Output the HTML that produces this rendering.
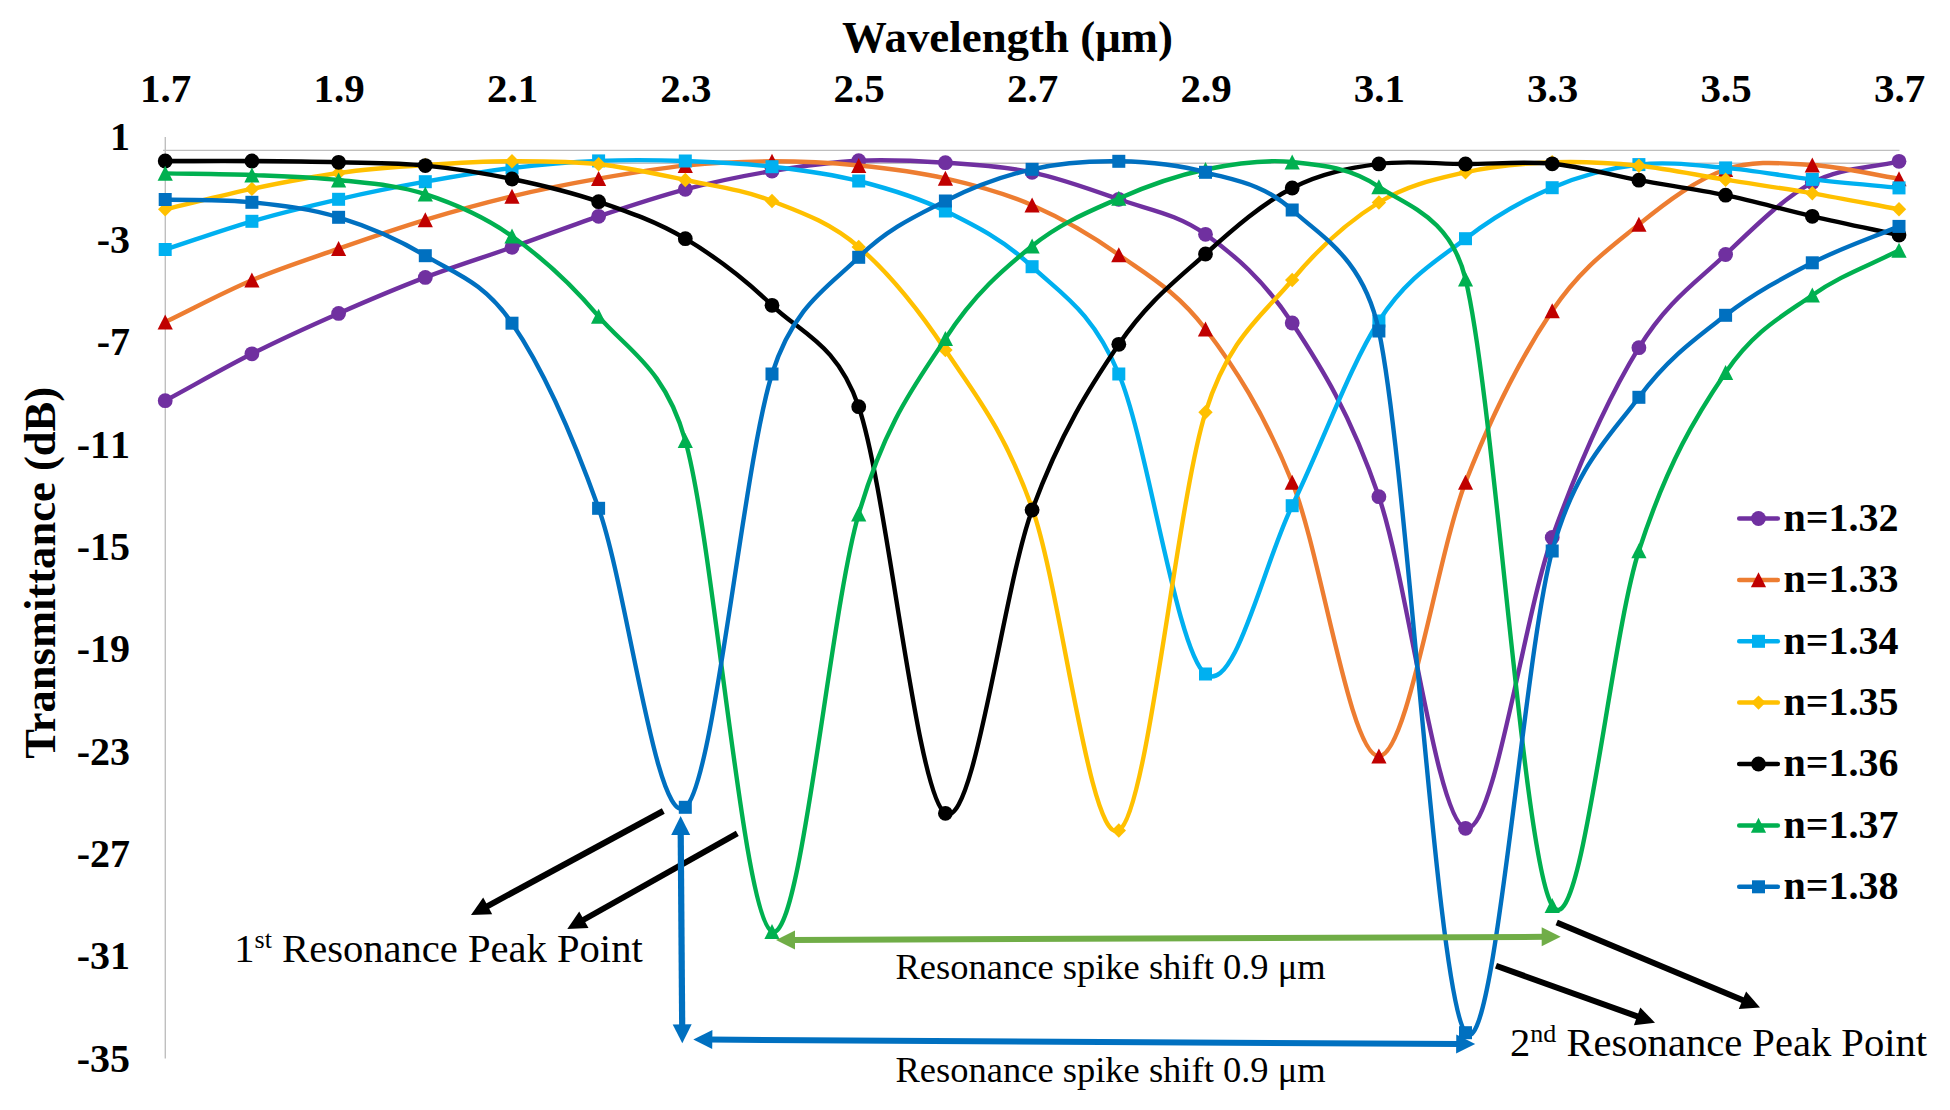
<!DOCTYPE html>
<html><head><meta charset="utf-8"><title>Transmittance vs Wavelength</title>
<style>
html,body{margin:0;padding:0;background:#fff;}
body{width:1950px;height:1110px;overflow:hidden;}
svg{display:block;}
text{font-family:"Liberation Serif","Times New Roman",serif;fill:#000;}
.b{font-weight:bold;}
.nk{font-kerning:none;}
</style></head><body>
<svg width="1950" height="1110" viewBox="0 0 1950 1110">
<rect width="1950" height="1110" fill="#fff"/>

<path d="M165.3 137 V1058.5" stroke="#bfbfbf" stroke-width="1.4" fill="none"/>
<path d="M163 150.4 H1899.5" stroke="#bfbfbf" stroke-width="1.4" fill="none"/>
<path d="M165.3 163.2 H1899" stroke="#c3c3c3" stroke-width="1.5" fill="none"/>
<text class="b" x="1007.5" y="52" font-size="44.9" text-anchor="middle">Wavelength (μm)</text>
<text class="b" transform="translate(54.8,572.8) rotate(-90)" font-size="44.6" text-anchor="middle">Transmittance (dB)</text>
<text class="b" x="165.7" y="102" font-size="41" text-anchor="middle">1.7</text>
<text class="b" x="339.1" y="102" font-size="41" text-anchor="middle">1.9</text>
<text class="b" x="512.5" y="102" font-size="41" text-anchor="middle">2.1</text>
<text class="b" x="685.8" y="102" font-size="41" text-anchor="middle">2.3</text>
<text class="b" x="859.2" y="102" font-size="41" text-anchor="middle">2.5</text>
<text class="b" x="1032.6" y="102" font-size="41" text-anchor="middle">2.7</text>
<text class="b" x="1206.0" y="102" font-size="41" text-anchor="middle">2.9</text>
<text class="b" x="1379.4" y="102" font-size="41" text-anchor="middle">3.1</text>
<text class="b" x="1552.7" y="102" font-size="41" text-anchor="middle">3.3</text>
<text class="b" x="1726.1" y="102" font-size="41" text-anchor="middle">3.5</text>
<text class="b" x="1899.5" y="102" font-size="41" text-anchor="middle">3.7</text>
<text class="b nk" x="130" y="150.4" font-size="40" text-anchor="end">1</text>
<text class="b nk" x="130" y="252.8" font-size="40" text-anchor="end">-3</text>
<text class="b nk" x="130" y="355.1" font-size="40" text-anchor="end">-7</text>
<text class="b nk" x="130" y="457.5" font-size="40" text-anchor="end">-11</text>
<text class="b nk" x="130" y="559.9" font-size="40" text-anchor="end">-15</text>
<text class="b nk" x="130" y="662.2" font-size="40" text-anchor="end">-19</text>
<text class="b nk" x="130" y="764.6" font-size="40" text-anchor="end">-23</text>
<text class="b nk" x="130" y="867.0" font-size="40" text-anchor="end">-27</text>
<text class="b nk" x="130" y="969.3" font-size="40" text-anchor="end">-31</text>
<text class="b nk" x="130" y="1071.7" font-size="40" text-anchor="end">-35</text>
<g>
<path d="M165.2 400.7 C194.1 385.1 223.0 368.4 251.9 353.8 C280.8 339.2 309.7 326.1 338.6 313.4 C367.5 300.7 396.4 288.4 425.3 277.4 C454.2 266.4 483.1 257.5 512.0 247.3 C540.9 237.1 569.8 226.0 598.6 216.3 C627.5 206.6 656.4 196.9 685.3 189.3 C714.2 181.8 743.1 175.8 772.0 171.0 C800.9 166.2 829.8 162.1 858.7 160.7 C887.6 159.3 916.5 160.8 945.4 162.7 C974.3 164.6 1003.2 166.2 1032.1 172.3 C1061.0 178.4 1089.9 189.0 1118.8 199.3 C1147.7 209.6 1176.6 213.7 1205.5 234.3 C1234.4 254.9 1263.3 279.3 1292.2 323.0 C1321.1 366.7 1350.0 412.5 1378.9 496.7 C1407.8 580.9 1436.7 821.5 1465.5 828.3 C1494.4 835.1 1523.3 617.5 1552.2 537.4 C1581.1 457.3 1610.0 394.8 1638.9 347.7 C1667.8 300.6 1696.7 282.0 1725.6 254.5 C1754.5 227.0 1783.4 198.1 1812.3 182.6 C1841.2 167.1 1870.1 168.4 1899.0 161.3" fill="none" stroke="#7030a0" stroke-width="4.4" stroke-linecap="round" stroke-linejoin="round"/>
<circle cx="165.2" cy="400.7" r="7.4" fill="#7030a0"/>
<circle cx="251.9" cy="353.8" r="7.4" fill="#7030a0"/>
<circle cx="338.6" cy="313.4" r="7.4" fill="#7030a0"/>
<circle cx="425.3" cy="277.4" r="7.4" fill="#7030a0"/>
<circle cx="512.0" cy="247.3" r="7.4" fill="#7030a0"/>
<circle cx="598.6" cy="216.3" r="7.4" fill="#7030a0"/>
<circle cx="685.3" cy="189.3" r="7.4" fill="#7030a0"/>
<circle cx="772.0" cy="171.0" r="7.4" fill="#7030a0"/>
<circle cx="858.7" cy="160.7" r="7.4" fill="#7030a0"/>
<circle cx="945.4" cy="162.7" r="7.4" fill="#7030a0"/>
<circle cx="1032.1" cy="172.3" r="7.4" fill="#7030a0"/>
<circle cx="1118.8" cy="199.3" r="7.4" fill="#7030a0"/>
<circle cx="1205.5" cy="234.3" r="7.4" fill="#7030a0"/>
<circle cx="1292.2" cy="323.0" r="7.4" fill="#7030a0"/>
<circle cx="1378.9" cy="496.7" r="7.4" fill="#7030a0"/>
<circle cx="1465.5" cy="828.3" r="7.4" fill="#7030a0"/>
<circle cx="1552.2" cy="537.4" r="7.4" fill="#7030a0"/>
<circle cx="1638.9" cy="347.7" r="7.4" fill="#7030a0"/>
<circle cx="1725.6" cy="254.5" r="7.4" fill="#7030a0"/>
<circle cx="1812.3" cy="182.6" r="7.4" fill="#7030a0"/>
<circle cx="1899.0" cy="161.3" r="7.4" fill="#7030a0"/>
</g>
<g>
<path d="M165.2 322.0 C194.1 308.1 223.0 292.4 251.9 280.2 C280.8 268.0 309.7 258.8 338.6 248.7 C367.5 238.6 396.4 228.6 425.3 219.9 C454.2 211.2 483.1 203.2 512.0 196.3 C540.9 189.4 569.8 183.7 598.6 178.6 C627.5 173.5 656.4 168.5 685.3 165.6 C714.2 162.7 743.1 161.3 772.0 161.3 C800.9 161.3 829.8 162.7 858.7 165.5 C887.6 168.3 916.5 171.8 945.4 178.4 C974.3 185.0 1003.2 192.5 1032.1 205.2 C1061.0 217.9 1089.9 234.2 1118.8 254.8 C1147.7 275.4 1176.6 291.1 1205.5 329.0 C1234.4 366.9 1263.3 411.1 1292.2 482.3 C1321.1 553.5 1350.0 756.2 1378.9 756.2 C1407.8 756.2 1436.7 556.5 1465.5 482.3 C1494.4 408.1 1523.3 353.8 1552.2 310.8 C1581.1 267.8 1610.0 248.0 1638.9 224.4 C1667.8 200.8 1696.7 179.4 1725.6 169.5 C1754.5 159.6 1783.4 163.4 1812.3 165.0 C1841.2 166.6 1870.1 174.2 1899.0 178.8" fill="none" stroke="#ed7d31" stroke-width="4.4" stroke-linecap="round" stroke-linejoin="round"/>
<path d="M165.2 314.4 L172.8 329.4 L157.6 329.4 Z" fill="#c00000"/>
<path d="M251.9 272.6 L259.5 287.6 L244.3 287.6 Z" fill="#c00000"/>
<path d="M338.6 241.1 L346.2 256.1 L331.0 256.1 Z" fill="#c00000"/>
<path d="M425.3 212.3 L432.9 227.3 L417.7 227.3 Z" fill="#c00000"/>
<path d="M512.0 188.7 L519.6 203.7 L504.4 203.7 Z" fill="#c00000"/>
<path d="M598.6 171.0 L606.2 186.0 L591.0 186.0 Z" fill="#c00000"/>
<path d="M685.3 158.0 L692.9 173.0 L677.7 173.0 Z" fill="#c00000"/>
<path d="M772.0 153.7 L779.6 168.7 L764.4 168.7 Z" fill="#c00000"/>
<path d="M858.7 157.9 L866.3 172.9 L851.1 172.9 Z" fill="#c00000"/>
<path d="M945.4 170.8 L953.0 185.8 L937.8 185.8 Z" fill="#c00000"/>
<path d="M1032.1 197.6 L1039.7 212.6 L1024.5 212.6 Z" fill="#c00000"/>
<path d="M1118.8 247.2 L1126.4 262.2 L1111.2 262.2 Z" fill="#c00000"/>
<path d="M1205.5 321.4 L1213.1 336.4 L1197.9 336.4 Z" fill="#c00000"/>
<path d="M1292.2 474.7 L1299.8 489.7 L1284.6 489.7 Z" fill="#c00000"/>
<path d="M1378.9 748.6 L1386.5 763.6 L1371.3 763.6 Z" fill="#c00000"/>
<path d="M1465.5 474.7 L1473.1 489.7 L1458.0 489.7 Z" fill="#c00000"/>
<path d="M1552.2 303.2 L1559.8 318.2 L1544.6 318.2 Z" fill="#c00000"/>
<path d="M1638.9 216.8 L1646.5 231.8 L1631.3 231.8 Z" fill="#c00000"/>
<path d="M1725.6 161.9 L1733.2 176.9 L1718.0 176.9 Z" fill="#c00000"/>
<path d="M1812.3 157.4 L1819.9 172.4 L1804.7 172.4 Z" fill="#c00000"/>
<path d="M1899.0 171.2 L1906.6 186.2 L1891.4 186.2 Z" fill="#c00000"/>
</g>
<g>
<path d="M165.2 249.5 C194.1 240.1 223.0 229.7 251.9 221.3 C280.8 212.9 309.7 205.9 338.6 199.3 C367.5 192.7 396.4 186.9 425.3 181.7 C454.2 176.5 483.1 171.5 512.0 168.0 C540.9 164.5 569.8 162.1 598.6 160.9 C627.5 159.7 656.4 160.0 685.3 161.0 C714.2 162.0 743.1 163.4 772.0 166.7 C800.9 170.0 829.8 173.6 858.7 181.0 C887.6 188.4 916.5 196.7 945.4 211.0 C974.3 225.3 1003.2 239.5 1032.1 266.7 C1061.0 293.9 1091.8 310.5 1118.8 374.0 C1147.7 441.9 1176.6 652.0 1205.5 674.0 C1234.4 696.0 1263.3 564.5 1292.2 505.7 C1321.1 446.9 1350.0 365.5 1378.9 321.0 C1407.8 276.5 1436.7 260.9 1465.5 238.7 C1494.4 216.5 1523.3 200.0 1552.2 187.7 C1581.1 175.3 1610.0 167.9 1638.9 164.6 C1667.8 161.3 1696.7 165.4 1725.6 167.9 C1754.5 170.4 1783.4 176.1 1812.3 179.4 C1841.2 182.7 1870.1 185.1 1899.0 187.9" fill="none" stroke="#00b0f0" stroke-width="4.4" stroke-linecap="round" stroke-linejoin="round"/>
<rect x="158.7" y="243.0" width="13" height="13" fill="#00b0f0"/>
<rect x="245.4" y="214.8" width="13" height="13" fill="#00b0f0"/>
<rect x="332.1" y="192.8" width="13" height="13" fill="#00b0f0"/>
<rect x="418.8" y="175.2" width="13" height="13" fill="#00b0f0"/>
<rect x="505.5" y="161.5" width="13" height="13" fill="#00b0f0"/>
<rect x="592.1" y="154.4" width="13" height="13" fill="#00b0f0"/>
<rect x="678.8" y="154.5" width="13" height="13" fill="#00b0f0"/>
<rect x="765.5" y="160.2" width="13" height="13" fill="#00b0f0"/>
<rect x="852.2" y="174.5" width="13" height="13" fill="#00b0f0"/>
<rect x="938.9" y="204.5" width="13" height="13" fill="#00b0f0"/>
<rect x="1025.6" y="260.2" width="13" height="13" fill="#00b0f0"/>
<rect x="1112.3" y="367.5" width="13" height="13" fill="#00b0f0"/>
<rect x="1199.0" y="667.5" width="13" height="13" fill="#00b0f0"/>
<rect x="1285.7" y="499.2" width="13" height="13" fill="#00b0f0"/>
<rect x="1372.4" y="314.5" width="13" height="13" fill="#00b0f0"/>
<rect x="1459.0" y="232.2" width="13" height="13" fill="#00b0f0"/>
<rect x="1545.7" y="181.2" width="13" height="13" fill="#00b0f0"/>
<rect x="1632.4" y="158.1" width="13" height="13" fill="#00b0f0"/>
<rect x="1719.1" y="161.4" width="13" height="13" fill="#00b0f0"/>
<rect x="1805.8" y="172.9" width="13" height="13" fill="#00b0f0"/>
<rect x="1892.5" y="181.4" width="13" height="13" fill="#00b0f0"/>
</g>
<g>
<path d="M165.2 209.3 C194.1 202.5 223.0 195.0 251.9 188.9 C280.8 182.8 309.7 177.0 338.6 173.0 C367.5 169.0 396.4 166.9 425.3 165.0 C454.2 163.1 483.1 161.4 512.0 161.3 C540.9 161.2 569.8 161.1 598.6 164.2 C627.5 167.3 656.4 173.9 685.3 180.0 C714.2 186.1 743.1 189.8 772.0 201.0 C800.9 212.2 829.8 222.1 858.7 246.9 C887.6 271.7 916.5 306.5 945.4 350.0 C974.3 393.5 1003.2 427.9 1032.1 508.0 C1061.0 588.1 1089.9 846.5 1118.8 830.5 C1147.7 814.5 1176.6 504.1 1205.5 412.3 C1229.2 336.9 1263.3 315.0 1292.2 280.0 C1321.1 245.0 1350.0 220.4 1378.9 202.5 C1407.8 184.6 1436.7 179.0 1465.5 172.3 C1494.4 165.6 1523.3 163.4 1552.2 162.3 C1581.1 161.2 1610.0 162.8 1638.9 165.7 C1667.8 168.6 1696.7 175.1 1725.6 179.7 C1754.5 184.3 1783.4 188.4 1812.3 193.3 C1841.2 198.2 1870.1 204.0 1899.0 209.3" fill="none" stroke="#ffc000" stroke-width="4.4" stroke-linecap="round" stroke-linejoin="round"/>
<path d="M165.2 202.1 L172.4 209.3 L165.2 216.5 L158.0 209.3 Z" fill="#ffc000"/>
<path d="M251.9 181.7 L259.1 188.9 L251.9 196.1 L244.7 188.9 Z" fill="#ffc000"/>
<path d="M338.6 165.8 L345.8 173.0 L338.6 180.2 L331.4 173.0 Z" fill="#ffc000"/>
<path d="M425.3 157.8 L432.5 165.0 L425.3 172.2 L418.1 165.0 Z" fill="#ffc000"/>
<path d="M512.0 154.1 L519.2 161.3 L512.0 168.5 L504.8 161.3 Z" fill="#ffc000"/>
<path d="M598.6 157.0 L605.9 164.2 L598.6 171.4 L591.4 164.2 Z" fill="#ffc000"/>
<path d="M685.3 172.8 L692.5 180.0 L685.3 187.2 L678.1 180.0 Z" fill="#ffc000"/>
<path d="M772.0 193.8 L779.2 201.0 L772.0 208.2 L764.8 201.0 Z" fill="#ffc000"/>
<path d="M858.7 239.7 L865.9 246.9 L858.7 254.1 L851.5 246.9 Z" fill="#ffc000"/>
<path d="M945.4 342.8 L952.6 350.0 L945.4 357.2 L938.2 350.0 Z" fill="#ffc000"/>
<path d="M1032.1 500.8 L1039.3 508.0 L1032.1 515.2 L1024.9 508.0 Z" fill="#ffc000"/>
<path d="M1118.8 823.3 L1126.0 830.5 L1118.8 837.7 L1111.6 830.5 Z" fill="#ffc000"/>
<path d="M1205.5 405.1 L1212.7 412.3 L1205.5 419.5 L1198.3 412.3 Z" fill="#ffc000"/>
<path d="M1292.2 272.8 L1299.4 280.0 L1292.2 287.2 L1285.0 280.0 Z" fill="#ffc000"/>
<path d="M1378.9 195.3 L1386.1 202.5 L1378.9 209.7 L1371.7 202.5 Z" fill="#ffc000"/>
<path d="M1465.5 165.1 L1472.8 172.3 L1465.5 179.5 L1458.3 172.3 Z" fill="#ffc000"/>
<path d="M1552.2 155.1 L1559.4 162.3 L1552.2 169.5 L1545.0 162.3 Z" fill="#ffc000"/>
<path d="M1638.9 158.5 L1646.1 165.7 L1638.9 172.9 L1631.7 165.7 Z" fill="#ffc000"/>
<path d="M1725.6 172.5 L1732.8 179.7 L1725.6 186.9 L1718.4 179.7 Z" fill="#ffc000"/>
<path d="M1812.3 186.1 L1819.5 193.3 L1812.3 200.5 L1805.1 193.3 Z" fill="#ffc000"/>
<path d="M1899.0 202.1 L1906.2 209.3 L1899.0 216.5 L1891.8 209.3 Z" fill="#ffc000"/>
</g>
<g>
<path d="M165.2 161.0 C194.1 161.0 223.0 160.8 251.9 161.0 C280.8 161.2 309.7 161.5 338.6 162.3 C367.5 163.1 396.4 162.8 425.3 165.6 C454.2 168.4 483.1 173.0 512.0 179.0 C540.9 185.0 569.8 191.8 598.6 201.7 C627.5 211.6 656.4 221.4 685.3 238.7 C714.2 256.0 743.1 277.3 772.0 305.3 C800.9 333.3 837.2 343.6 858.7 406.7 C887.6 491.4 916.5 796.1 945.4 813.3 C974.3 830.5 1003.2 588.2 1032.1 510.0 C1061.0 431.8 1089.9 387.0 1118.8 344.3 C1147.7 301.6 1176.6 280.1 1205.5 254.0 C1234.4 227.9 1263.3 203.0 1292.2 188.0 C1321.1 173.0 1350.0 167.9 1378.9 163.9 C1407.8 159.9 1436.7 164.0 1465.5 164.0 C1494.4 164.0 1523.3 161.1 1552.2 163.8 C1581.1 166.5 1610.0 175.0 1638.9 180.2 C1667.8 185.4 1696.7 189.2 1725.6 195.2 C1754.5 201.2 1783.4 209.7 1812.3 216.3 C1841.2 222.9 1870.1 228.8 1899.0 235.0" fill="none" stroke="#000000" stroke-width="4.4" stroke-linecap="round" stroke-linejoin="round"/>
<circle cx="165.2" cy="161.0" r="7.4" fill="#000000"/>
<circle cx="251.9" cy="161.0" r="7.4" fill="#000000"/>
<circle cx="338.6" cy="162.3" r="7.4" fill="#000000"/>
<circle cx="425.3" cy="165.6" r="7.4" fill="#000000"/>
<circle cx="512.0" cy="179.0" r="7.4" fill="#000000"/>
<circle cx="598.6" cy="201.7" r="7.4" fill="#000000"/>
<circle cx="685.3" cy="238.7" r="7.4" fill="#000000"/>
<circle cx="772.0" cy="305.3" r="7.4" fill="#000000"/>
<circle cx="858.7" cy="406.7" r="7.4" fill="#000000"/>
<circle cx="945.4" cy="813.3" r="7.4" fill="#000000"/>
<circle cx="1032.1" cy="510.0" r="7.4" fill="#000000"/>
<circle cx="1118.8" cy="344.3" r="7.4" fill="#000000"/>
<circle cx="1205.5" cy="254.0" r="7.4" fill="#000000"/>
<circle cx="1292.2" cy="188.0" r="7.4" fill="#000000"/>
<circle cx="1378.9" cy="163.9" r="7.4" fill="#000000"/>
<circle cx="1465.5" cy="164.0" r="7.4" fill="#000000"/>
<circle cx="1552.2" cy="163.8" r="7.4" fill="#000000"/>
<circle cx="1638.9" cy="180.2" r="7.4" fill="#000000"/>
<circle cx="1725.6" cy="195.2" r="7.4" fill="#000000"/>
<circle cx="1812.3" cy="216.3" r="7.4" fill="#000000"/>
<circle cx="1899.0" cy="235.0" r="7.4" fill="#000000"/>
</g>
<g>
<path d="M165.2 173.4 C194.1 173.9 223.0 173.9 251.9 175.0 C280.8 176.1 309.7 176.8 338.6 180.0 C367.5 183.2 396.4 184.8 425.3 194.2 C454.2 203.6 483.1 215.8 512.0 236.2 C540.9 256.6 569.8 282.3 598.6 316.4 C627.5 350.4 664.8 367.6 685.3 440.5 C714.2 543.0 743.1 919.4 772.0 931.6 C800.9 943.9 829.8 612.8 858.7 514.0 C886.2 420.1 916.5 383.3 945.4 338.6 C974.3 293.9 1003.2 269.4 1032.1 246.0 C1061.0 222.6 1089.9 211.2 1118.8 198.4 C1147.7 185.7 1176.6 175.6 1205.5 169.5 C1234.4 163.4 1263.3 159.1 1292.2 162.0 C1321.1 164.9 1350.0 167.4 1378.9 186.9 C1407.8 206.4 1450.7 217.5 1465.5 279.0 C1494.4 398.8 1523.3 860.2 1552.2 905.5 C1581.1 950.8 1610.0 639.6 1638.9 550.8 C1667.8 462.0 1696.7 415.1 1725.6 372.5 C1754.5 329.9 1783.4 315.6 1812.3 295.2 C1841.2 274.8 1870.1 265.3 1899.0 250.3" fill="none" stroke="#00b050" stroke-width="4.4" stroke-linecap="round" stroke-linejoin="round"/>
<path d="M165.2 165.8 L172.8 180.8 L157.6 180.8 Z" fill="#00b050"/>
<path d="M251.9 167.4 L259.5 182.4 L244.3 182.4 Z" fill="#00b050"/>
<path d="M338.6 172.4 L346.2 187.4 L331.0 187.4 Z" fill="#00b050"/>
<path d="M425.3 186.6 L432.9 201.6 L417.7 201.6 Z" fill="#00b050"/>
<path d="M512.0 228.6 L519.6 243.6 L504.4 243.6 Z" fill="#00b050"/>
<path d="M598.6 308.8 L606.2 323.8 L591.0 323.8 Z" fill="#00b050"/>
<path d="M685.3 432.9 L692.9 447.9 L677.7 447.9 Z" fill="#00b050"/>
<path d="M772.0 924.0 L779.6 939.0 L764.4 939.0 Z" fill="#00b050"/>
<path d="M858.7 506.4 L866.3 521.4 L851.1 521.4 Z" fill="#00b050"/>
<path d="M945.4 331.0 L953.0 346.0 L937.8 346.0 Z" fill="#00b050"/>
<path d="M1032.1 238.4 L1039.7 253.4 L1024.5 253.4 Z" fill="#00b050"/>
<path d="M1118.8 190.8 L1126.4 205.8 L1111.2 205.8 Z" fill="#00b050"/>
<path d="M1205.5 161.9 L1213.1 176.9 L1197.9 176.9 Z" fill="#00b050"/>
<path d="M1292.2 154.4 L1299.8 169.4 L1284.6 169.4 Z" fill="#00b050"/>
<path d="M1378.9 179.3 L1386.5 194.3 L1371.3 194.3 Z" fill="#00b050"/>
<path d="M1465.5 271.4 L1473.1 286.4 L1458.0 286.4 Z" fill="#00b050"/>
<path d="M1552.2 897.9 L1559.8 912.9 L1544.6 912.9 Z" fill="#00b050"/>
<path d="M1638.9 543.2 L1646.5 558.2 L1631.3 558.2 Z" fill="#00b050"/>
<path d="M1725.6 364.9 L1733.2 379.9 L1718.0 379.9 Z" fill="#00b050"/>
<path d="M1812.3 287.6 L1819.9 302.6 L1804.7 302.6 Z" fill="#00b050"/>
<path d="M1899.0 242.7 L1906.6 257.7 L1891.4 257.7 Z" fill="#00b050"/>
</g>
<g>
<path d="M165.2 199.5 C194.1 200.4 223.0 199.3 251.9 202.3 C280.8 205.3 309.7 208.4 338.6 217.3 C367.5 226.2 396.4 238.0 425.3 255.7 C454.2 273.3 483.1 281.1 512.0 323.2 C540.9 365.3 569.8 427.6 598.6 508.3 C627.5 589.0 656.4 829.7 685.3 807.3 C714.2 784.9 743.1 465.7 772.0 374.0 C793.9 304.7 829.8 286.1 858.7 257.3 C887.6 228.5 916.5 215.7 945.4 201.0 C974.3 186.3 1003.2 175.9 1032.1 169.3 C1061.0 162.7 1089.9 160.8 1118.8 161.3 C1147.7 161.8 1176.6 164.2 1205.5 172.3 C1234.4 180.4 1263.3 183.6 1292.2 210.0 C1321.1 236.4 1363.5 258.2 1378.9 331.0 C1407.8 468.1 1436.7 996.0 1465.5 1032.7 C1494.4 1069.4 1523.3 656.9 1552.2 551.0 C1575.5 465.9 1610.0 436.6 1638.9 397.3 C1667.8 358.0 1696.7 337.7 1725.6 315.3 C1754.5 292.9 1783.4 277.6 1812.3 262.8 C1841.2 248.0 1870.1 238.5 1899.0 226.4" fill="none" stroke="#0070c0" stroke-width="4.4" stroke-linecap="round" stroke-linejoin="round"/>
<rect x="158.7" y="193.0" width="13" height="13" fill="#0070c0"/>
<rect x="245.4" y="195.8" width="13" height="13" fill="#0070c0"/>
<rect x="332.1" y="210.8" width="13" height="13" fill="#0070c0"/>
<rect x="418.8" y="249.2" width="13" height="13" fill="#0070c0"/>
<rect x="505.5" y="316.7" width="13" height="13" fill="#0070c0"/>
<rect x="592.1" y="501.8" width="13" height="13" fill="#0070c0"/>
<rect x="678.8" y="800.8" width="13" height="13" fill="#0070c0"/>
<rect x="765.5" y="367.5" width="13" height="13" fill="#0070c0"/>
<rect x="852.2" y="250.8" width="13" height="13" fill="#0070c0"/>
<rect x="938.9" y="194.5" width="13" height="13" fill="#0070c0"/>
<rect x="1025.6" y="162.8" width="13" height="13" fill="#0070c0"/>
<rect x="1112.3" y="154.8" width="13" height="13" fill="#0070c0"/>
<rect x="1199.0" y="165.8" width="13" height="13" fill="#0070c0"/>
<rect x="1285.7" y="203.5" width="13" height="13" fill="#0070c0"/>
<rect x="1372.4" y="324.5" width="13" height="13" fill="#0070c0"/>
<rect x="1459.0" y="1026.2" width="13" height="13" fill="#0070c0"/>
<rect x="1545.7" y="544.5" width="13" height="13" fill="#0070c0"/>
<rect x="1632.4" y="390.8" width="13" height="13" fill="#0070c0"/>
<rect x="1719.1" y="308.8" width="13" height="13" fill="#0070c0"/>
<rect x="1805.8" y="256.3" width="13" height="13" fill="#0070c0"/>
<rect x="1892.5" y="219.9" width="13" height="13" fill="#0070c0"/>
</g>
<path d="M1739.2 518.5 H1777.8" stroke="#7030a0" stroke-width="4.5" stroke-linecap="round"/>
<circle cx="1758.5" cy="518.5" r="7.4" fill="#7030a0"/>
<text class="b" x="1783.5" y="530.9" font-size="40">n=1.32</text>
<path d="M1739.2 579.9 H1777.8" stroke="#ed7d31" stroke-width="4.5" stroke-linecap="round"/>
<path d="M1758.5 572.3 L1766.1 587.3 L1750.9 587.3 Z" fill="#c00000"/>
<text class="b" x="1783.5" y="592.3" font-size="40">n=1.33</text>
<path d="M1739.2 641.3 H1777.8" stroke="#00b0f0" stroke-width="4.5" stroke-linecap="round"/>
<rect x="1752.0" y="634.8" width="13" height="13" fill="#00b0f0"/>
<text class="b" x="1783.5" y="653.7" font-size="40">n=1.34</text>
<path d="M1739.2 702.6 H1777.8" stroke="#ffc000" stroke-width="4.5" stroke-linecap="round"/>
<path d="M1758.5 695.4 L1765.7 702.6 L1758.5 709.8 L1751.3 702.6 Z" fill="#ffc000"/>
<text class="b" x="1783.5" y="715.0" font-size="40">n=1.35</text>
<path d="M1739.2 764.0 H1777.8" stroke="#000000" stroke-width="4.5" stroke-linecap="round"/>
<circle cx="1758.5" cy="764.0" r="7.4" fill="#000000"/>
<text class="b" x="1783.5" y="776.4" font-size="40">n=1.36</text>
<path d="M1739.2 825.4 H1777.8" stroke="#00b050" stroke-width="4.5" stroke-linecap="round"/>
<path d="M1758.5 817.8 L1766.1 832.8 L1750.9 832.8 Z" fill="#00b050"/>
<text class="b" x="1783.5" y="837.8" font-size="40">n=1.37</text>
<path d="M1739.2 886.8 H1777.8" stroke="#0070c0" stroke-width="4.5" stroke-linecap="round"/>
<rect x="1752.0" y="880.3" width="13" height="13" fill="#0070c0"/>
<text class="b" x="1783.5" y="899.2" font-size="40">n=1.38</text>
<path d="M663.3 811.0 L484.4 907.8" stroke="#000" stroke-width="6.0"/><path d="M471.0 915.0 L483.2 897.6 L492.2 914.3 Z" fill="#000"/>
<path d="M737.3 833.3 L580.5 921.5" stroke="#000" stroke-width="6.0"/><path d="M567.3 929.0 L579.2 911.4 L588.5 928.0 Z" fill="#000"/>
<path d="M1556.7 922.4 L1746.0 1001.6" stroke="#000" stroke-width="6.0"/><path d="M1760.0 1007.5 L1738.8 1008.9 L1746.1 991.4 Z" fill="#000"/>
<path d="M1496.0 965.8 L1640.7 1017.6" stroke="#000" stroke-width="6.0"/><path d="M1655.0 1022.7 L1633.9 1025.2 L1640.3 1007.4 Z" fill="#000"/>
<path d="M776.0 940.0 L795.0 949.4 L795.0 930.4 Z" fill="#70ad47"/><path d="M791.2 939.9 L1545.5 936.8" stroke="#70ad47" stroke-width="6.0"/><path d="M1560.7 936.7 L1541.7 946.3 L1541.7 927.3 Z" fill="#70ad47"/>
<path d="M693.3 1039.5 L712.2 1049.1 L712.4 1030.1 Z" fill="#0070c0"/><path d="M708.5 1039.6 L1460.0 1044.0" stroke="#0070c0" stroke-width="6.0"/><path d="M1475.2 1044.1 L1456.1 1053.5 L1456.3 1034.5 Z" fill="#0070c0"/>
<path d="M680.6 816.0 L671.2 835.1 L690.2 834.9 Z" fill="#0070c0"/><path d="M680.7 831.2 L682.2 1028.1" stroke="#0070c0" stroke-width="6.2"/><path d="M682.3 1043.3 L672.7 1024.4 L691.7 1024.2 Z" fill="#0070c0"/>
<text x="234.3" y="962" font-size="40.6">1<tspan font-size="26" dy="-14.5">st</tspan><tspan dy="14.5"> Resonance Peak Point</tspan></text>
<text x="1510" y="1056.3" font-size="40.6">2<tspan font-size="26" dy="-14.5">nd</tspan><tspan dy="14.5"> Resonance Peak Point</tspan></text>
<text x="895.5" y="978.8" font-size="36.5">Resonance spike shift 0.9 μm</text>
<text x="895.5" y="1082.2" font-size="36.5">Resonance spike shift 0.9 μm</text>
</svg></body></html>
